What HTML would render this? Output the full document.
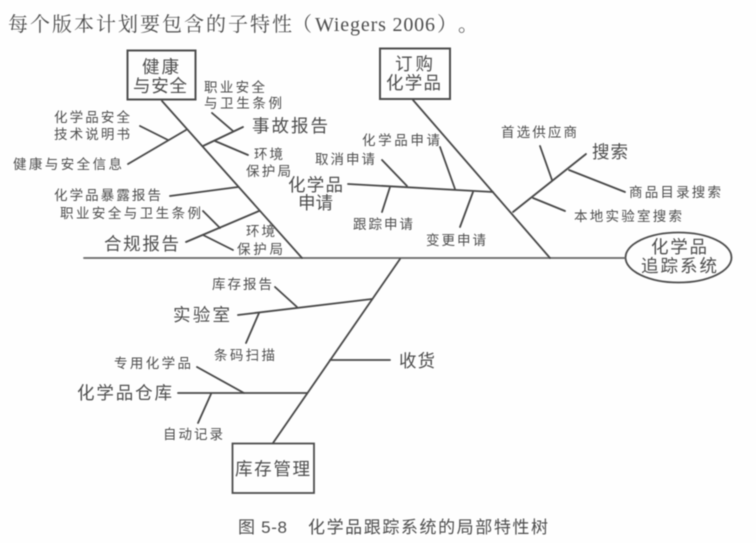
<!DOCTYPE html>
<html lang="zh">
<head>
<meta charset="utf-8">
<style>
html,body{margin:0;padding:0;background:#fefefe;width:756px;height:543px;overflow:hidden}
svg{display:block;filter:blur(0.6px)}
text{font-family:"Liberation Sans","WenQuanYi Zen Hei","Noto Sans CJK SC",sans-serif;fill:#4d4d4d}
.s{font-size:13.5px}
.b{font-size:17.5px}
.t{font-family:"Liberation Serif","Noto Serif CJK SC",serif;font-size:20px;fill:#4d4d4d}
.c{font-size:17px;fill:#4d4d4d}
line{stroke:#484848;stroke-width:1.8;stroke-linecap:round}
rect,ellipse{fill:none;stroke:#4d4d4d}
</style>
</head>
<body>
<svg width="756" height="543" viewBox="0 0 756 543" xmlns="http://www.w3.org/2000/svg">
<text class="t" x="8" y="31" textLength="284" lengthAdjust="spacing">每个版本计划要包含的子特性</text>
<text class="t" x="292" y="31">（</text>
<text class="t" x="315" y="31" textLength="120" lengthAdjust="spacing">Wiegers 2006</text>
<text class="t" x="437" y="31">）</text>
<text class="t" x="458" y="31">。</text>

<rect x="127.5" y="50.5" width="68" height="49" stroke-width="2"/>
<rect x="380" y="48.5" width="70" height="50.5" stroke-width="2"/>
<rect x="232.5" y="443.5" width="81.5" height="49.5" stroke-width="1.8"/>
<ellipse cx="678.5" cy="257.5" rx="53" ry="25" stroke-width="1.8"/>

<line x1="84" y1="258" x2="625" y2="258" style="stroke:#666"/>
<line x1="162" y1="101" x2="302" y2="258"/>
<line x1="203" y1="146" x2="243" y2="127"/>
<line x1="212" y1="113" x2="233" y2="131"/>
<line x1="215" y1="141" x2="248" y2="155"/>
<line x1="186" y1="130" x2="128" y2="164"/>
<line x1="140" y1="126" x2="168" y2="140"/>
<line x1="238" y1="187" x2="170" y2="196"/>
<line x1="259" y1="211" x2="186" y2="242"/>
<line x1="203" y1="211" x2="220" y2="228"/>
<line x1="203" y1="235" x2="233" y2="250"/>

<line x1="413" y1="100" x2="550" y2="258"/>
<line x1="348" y1="184" x2="493" y2="192"/>
<line x1="440" y1="147" x2="455" y2="189"/>
<line x1="382" y1="160" x2="407" y2="186"/>
<line x1="390" y1="187" x2="382" y2="212"/>
<line x1="473" y1="192" x2="460" y2="227"/>
<line x1="513" y1="212" x2="586" y2="154"/>
<line x1="540" y1="146" x2="552" y2="180"/>
<line x1="569" y1="170" x2="625" y2="192"/>
<line x1="533" y1="198" x2="565" y2="211"/>

<line x1="400" y1="259" x2="273" y2="443"/>
<line x1="238" y1="315" x2="372" y2="299"/>
<line x1="275" y1="287" x2="297" y2="307"/>
<line x1="259" y1="313" x2="246" y2="343"/>
<line x1="330" y1="360" x2="390" y2="360"/>
<line x1="178" y1="393" x2="307" y2="393"/>
<line x1="197" y1="367" x2="244" y2="393"/>
<line x1="211" y1="394" x2="198" y2="423"/>

<text class="b" x="142" y="73" textLength="37">健康</text>
<text class="b" x="133" y="92" textLength="54">与安全</text>
<text class="s" x="204" y="92" textLength="61">职业安全</text>
<text class="s" x="204" y="108" textLength="78">与卫生条例</text>
<text class="s" x="54" y="122" textLength="76">化学品安全</text>
<text class="s" x="54" y="139" textLength="76">技术说明书</text>
<text class="s" x="13" y="169" textLength="109">健康与安全信息</text>
<text class="b" x="252" y="132" textLength="76">事故报告</text>
<text class="s" x="254" y="159" textLength="29">环境</text>
<text class="s" x="246" y="176" textLength="45">保护局</text>
<text class="s" x="54" y="200" textLength="107">化学品暴露报告</text>
<text class="s" x="60" y="218" textLength="141">职业安全与卫生条例</text>
<text class="b" x="104" y="250" textLength="75">合规报告</text>
<text class="s" x="246" y="236" textLength="29">环境</text>
<text class="s" x="237" y="254" textLength="46">保护局</text>
<text class="b" x="288" y="191" textLength="55">化学品</text>
<text class="b" x="298" y="209" textLength="35">申请</text>
<text class="s" x="315" y="164" textLength="60">取消申请</text>
<text class="s" x="362" y="145" textLength="78">化学品申请</text>
<text class="s" x="353" y="229" textLength="60">跟踪申请</text>
<text class="s" x="426" y="245" textLength="60">变更申请</text>
<text class="b" x="395" y="70" textLength="38">订购</text>
<text class="b" x="386" y="89" textLength="55">化学品</text>
<text class="s" x="501" y="137" textLength="76">首选供应商</text>
<text class="b" x="592" y="158" textLength="36">搜索</text>
<text class="s" x="629" y="197" textLength="92">商品目录搜索</text>
<text class="s" x="574" y="221" textLength="108">本地实验室搜索</text>
<text class="b" x="651" y="253" textLength="56">化学品</text>
<text class="b" x="641" y="272" textLength="76">追踪系统</text>
<text class="s" x="212" y="289" textLength="60">库存报告</text>
<text class="b" x="173" y="321" textLength="57">实验室</text>
<text class="s" x="214" y="360" textLength="61">条码扫描</text>
<text class="s" x="114" y="368" textLength="77">专用化学品</text>
<text class="b" x="77" y="399" textLength="95">化学品仓库</text>
<text class="s" x="163" y="439" textLength="60">自动记录</text>
<text class="b" x="399" y="367" textLength="36">收货</text>
<text class="b" x="235" y="475" textLength="75">库存管理</text>
<text class="c" x="238" y="533" textLength="49">图 5-8</text>
<text class="c" x="308" y="533" textLength="240">化学品跟踪系统的局部特性树</text>
</svg>
</body>
</html>
